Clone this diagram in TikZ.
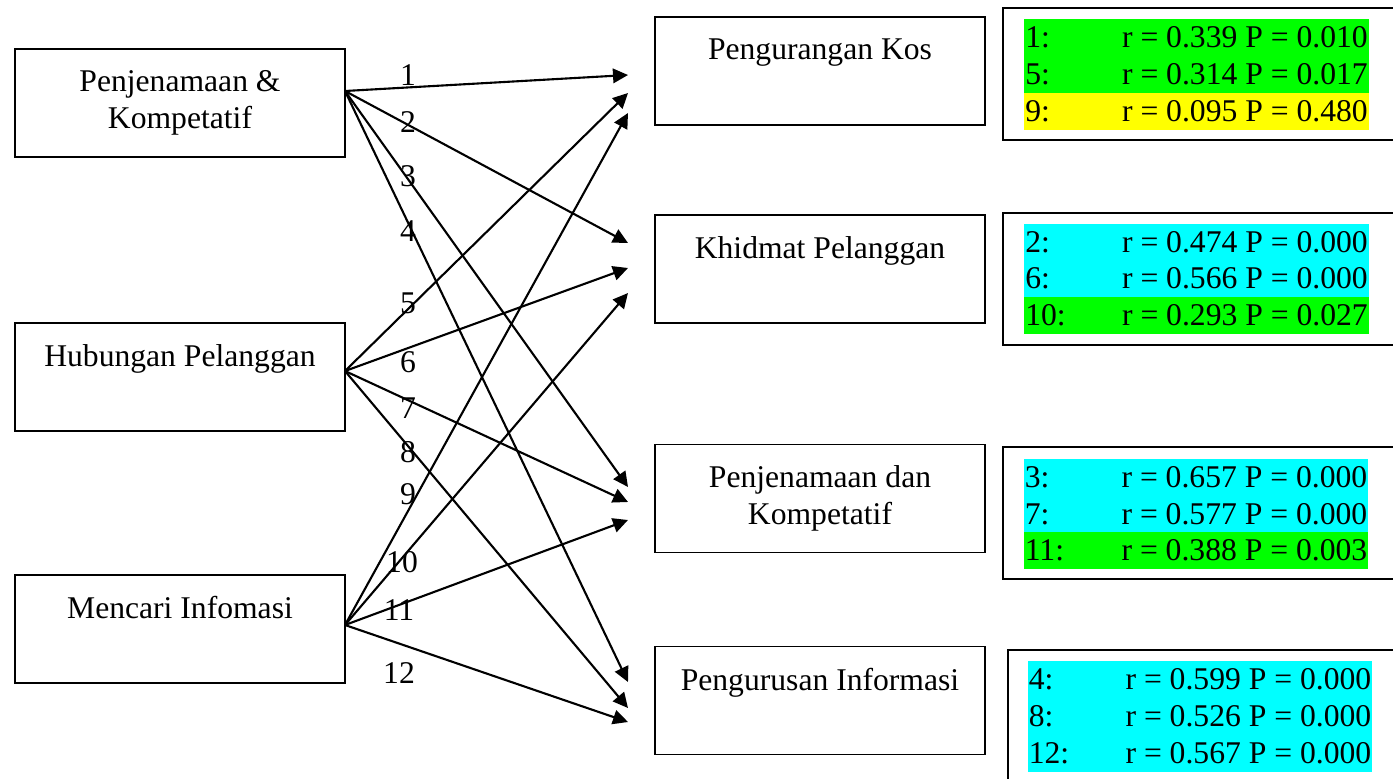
\documentclass[tikz,border=0pt]{standalone}
\usepackage{fontspec}
\setmainfont{Liberation Serif}
\usetikzlibrary{arrows.meta, positioning}
\definecolor{hijau}{RGB}{0,255,0}
\definecolor{kuning}{RGB}{255,255,0}
\definecolor{sian}{RGB}{0,255,255}
\tikzset{
  kotak/.style={rectangle, draw, line width=1.1pt, minimum width=6.6cm, minimum height=2.16cm, inner sep=0pt},
  judul/.style={anchor=north, yshift=-0.44cm, inner sep=0pt, align=center, font=\fontsize{18}{21}\selectfont},
  bingkai/.style={rectangle, draw, line width=1.3pt, minimum width=8.2cm, minimum height=2.64cm},
  baris/.style={rectangle, inner sep=0pt, minimum width=6.9cm, minimum height=0.74cm, font=\fontsize{18}{21}\selectfont},
  nombor/.style={inner sep=0pt, font=\fontsize{18}{21}\selectfont},
  anak/.style={-{Triangle[length=0.3cm, width=0.29cm]}, line width=1.2pt},
}
\newcommand{\nilai}[2]{\makebox[6.85cm]{#1\hfill #2}}

\begin{document}
\begin{tikzpicture}[x=0.02cm, y=-0.02cm]
  \clip (0,0) rectangle (1393,778);
  % Faktor (kiri)
  \node[kotak, label={[judul]north:{Penjenamaan \&\\Kompetatif}}] (jenama) at (180,103) {};
  \node[kotak, label={[judul]north:Hubungan Pelanggan}] (hubungan) at (180,377) {};
  \node[kotak, label={[judul]north:Mencari Infomasi}] (cari) at (180,629) {};
  % Prestasi (tengah)
  \node[kotak, label={[judul]north:Pengurangan Kos}] (kos) at (820,71) {};
  \node[kotak, label={[judul]north:Khidmat Pelanggan}] (khidmat) at (820,269) {};
  \node[kotak, label={[judul]north:{Penjenamaan dan\\Kompetatif}}] (jenamadan) at (820,498.5) {};
  \node[kotak, label={[judul]north:Pengurusan Informasi}] (urus) at (820,700.5) {};
  % Titik mula dan hujung anak panah
  \coordinate (o1) at (345,91);
  \coordinate (o2) at (345,371);
  \coordinate (o3) at (345,625);
  \coordinate (t1) at (628,75);
  \coordinate (t2) at (628,243);
  \coordinate (t3) at (628,487);
  \coordinate (t4) at (628,682);
  \coordinate (t5) at (628,93);
  \coordinate (t6) at (628,268);
  \coordinate (t7) at (628,502);
  \coordinate (t8) at (628,708);
  \coordinate (t9) at (628,113);
  \coordinate (t10) at (628,293);
  \coordinate (t11) at (628,520);
  \coordinate (t12) at (628,722);
  \draw[anak] (o1) -- (t1);
  \draw[anak] (o1) -- (t2);
  \draw[anak] (o1) -- (t3);
  \draw[anak] (o1) -- (t4);
  \draw[anak] (o2) -- (t5);
  \draw[anak] (o2) -- (t6);
  \draw[anak] (o2) -- (t7);
  \draw[anak] (o2) -- (t8);
  \draw[anak] (o3) -- (t9);
  \draw[anak] (o3) -- (t10);
  \draw[anak] (o3) -- (t11);
  \draw[anak] (o3) -- (t12);
  % Nombor hubungan
  \node[nombor] (n1) at (408,75) {1};
  \node[nombor] (n2) at (408,122) {2};
  \node[nombor] (n3) at (408,176) {3};
  \node[nombor] (n4) at (408,231) {4};
  \node[nombor] (n5) at (408,303) {5};
  \node[nombor] (n6) at (408,362) {6};
  \node[nombor] (n7) at (408,408) {7};
  \node[nombor] (n8) at (408,452) {8};
  \node[nombor] (n9) at (408,494) {9};
  \node[nombor] (n10) at (402,562) {10};
  \node[nombor] (n11) at (399,610) {11};
  \node[nombor] (n12) at (399,673) {12};
  % Keputusan korelasi (kanan)
  \node[bingkai] (stat1) at (1208,74) {};
  \node[baris, fill=hijau] (r1) at (1196.5,37.5) {\nilai{1:}{r = 0.339 P = 0.010}};
  \node[baris, fill=hijau] (r5) at (1196.5,74.5) {\nilai{5:}{r = 0.314 P = 0.017}};
  \node[baris, fill=kuning] (r9) at (1196.5,111) {\nilai{9:}{r = 0.095 P = 0.480}};
  \node[bingkai] (stat2) at (1208,279) {};
  \node[baris, fill=sian] (r2) at (1196.5,242) {\nilai{2:}{r = 0.474 P = 0.000}};
  \node[baris, fill=sian] (r6) at (1196.5,278.5) {\nilai{6:}{r = 0.566 P = 0.000}};
  \node[baris, fill=hijau] (r10) at (1196.5,315) {\nilai{10:}{r = 0.293 P = 0.027}};
  \node[bingkai] (stat3) at (1208,513) {};
  \node[baris, fill=sian] (r3) at (1196,477.5) {\nilai{3:}{r = 0.657 P = 0.000}};
  \node[baris, fill=sian] (r7) at (1196,514) {\nilai{7:}{r = 0.577 P = 0.000}};
  \node[baris, fill=hijau] (r11) at (1196,550.5) {\nilai{11:}{r = 0.388 P = 0.003}};
  \node[bingkai, minimum height=2.8cm] (stat4) at (1213,720) {};
  \node[baris, fill=sian] (r4) at (1200,679.5) {\nilai{4:}{r = 0.599 P = 0.000}};
  \node[baris, fill=sian] (r8) at (1200,716.5) {\nilai{8:}{r = 0.526 P = 0.000}};
  \node[baris, fill=sian] (r12) at (1200,753.5) {\nilai{12:}{r = 0.567 P = 0.000}};
\end{tikzpicture}
\end{document}
